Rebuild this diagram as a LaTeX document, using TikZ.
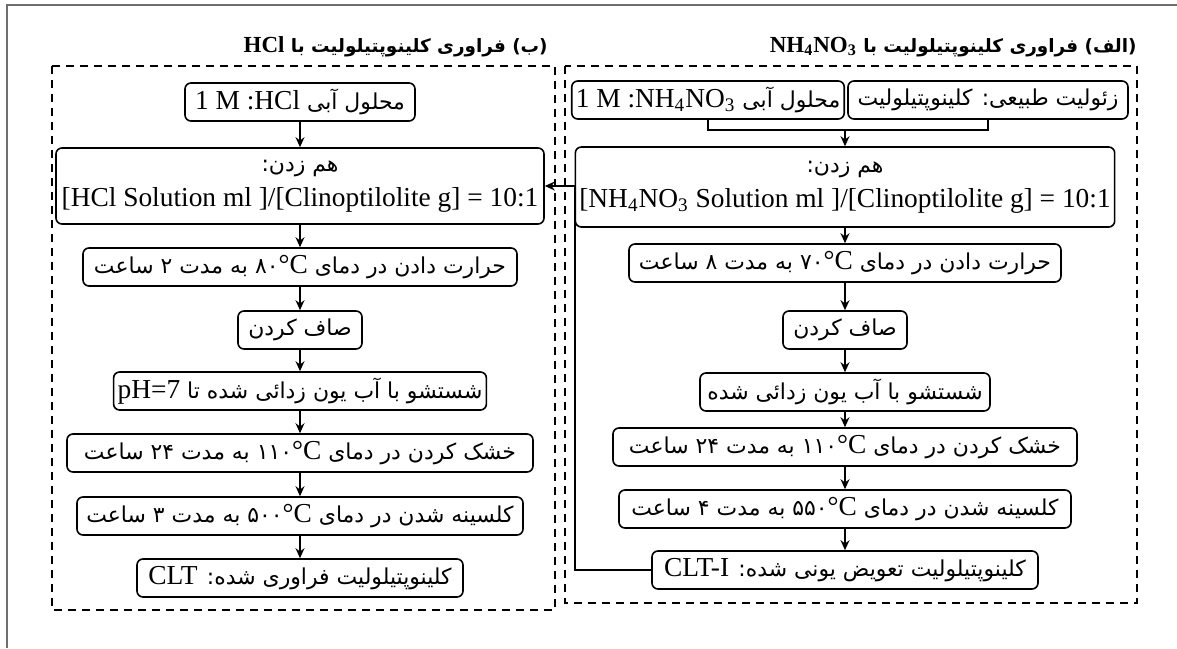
\documentclass[tikz,border=0pt]{standalone}
\usepackage{fontspec}
\usetikzlibrary{arrows.meta}
\setmainfont{Liberation Serif}
\newfontfamily\farsi[Script=Arabic,Scale=0.8]{DejaVu Sans}
\TeXXeTstate=1
\newcommand\lat[1]{\beginL{\rmfamily#1}\endL}
\newcommand\rtl[1]{{\farsi\beginR#1\endR}}
\definecolor{framegray}{RGB}{110,110,110}
\tikzset{
  stepbox/.style={draw, line width=0.8pt, rounded corners=3pt, minimum height=19pt,
                  inner sep=2pt, align=center, font=\fontsize{13.7}{17.5}\selectfont},
  grouptitle/.style={anchor=east, inner sep=0pt, font=\fontsize{11.5}{14}\selectfont\bfseries},
  groupbox/.style={dashed, dash pattern=on 4pt off 3pt, line width=0.6pt},
  flow/.style={line width=0.7pt, -{Stealth[length=5pt,width=4.5pt]}},
  link/.style={line width=0.7pt},
}
\begin{document}
\begin{tikzpicture}[x=0.5pt,y=-0.5pt]
\useasboundingbox (0,0) rectangle (1177,648);
\draw[framegray, line width=0.6pt] (7,648) -- (7,5) -- (1177,5);
\draw[groupbox] (52,66) rectangle (555,610);
\draw[groupbox] (565,66) rectangle (1137,603);
\node[grouptitle] (tb) at (548,47) {\rtl{(ب) فراوری کلینوپتیلولیت با \lat{HCl}}};
\node[grouptitle] (ta) at (1137,47) {\rtl{(الف) فراوری کلینوپتیلولیت با \lat{NH\textsubscript{4}NO\textsubscript{3}}}};

\node[stepbox, minimum width=115pt] (l1) at (300,102) {\rtl{محلول آبی \lat{1 M :HCl}}};
\node[stepbox, minimum width=244pt, minimum height=38pt] (l2) at (300,186) {\rtl{هم زدن:}\\ {[}HCl Solution ml ]/[Clinoptilolite g] = 10:1};
\node[stepbox, minimum width=217pt] (l3) at (300,267) {\rtl{حرارت دادن در دمای \lat{{\farsi ۸۰}°C} به مدت ۲ ساعت}};
\node[stepbox, minimum width=62pt] (l4) at (300,330) {\rtl{صاف کردن}};
\node[stepbox, minimum width=186pt] (l5) at (300,391) {\rtl{شستشو با آب یون زدائی شده تا \lat{pH=7}}};
\node[stepbox, minimum width=233pt] (l6) at (300,453) {\rtl{خشک کردن در دمای \lat{{\farsi ۱۱۰}°C} به مدت ۲۴ ساعت}};
\node[stepbox, minimum width=223pt] (l7) at (300,516) {\rtl{کلسینه شدن در دمای \lat{{\farsi ۵۰۰}°C} به مدت ۳ ساعت}};
\node[stepbox, minimum width=163pt] (l8) at (300,578) {\rtl{کلینوپتیلولیت فراوری شده: \lat{CLT}}};

\node[stepbox, minimum width=132pt] (r1a) at (708,100) {\rtl{محلول آبی \lat{1 M :NH\textsubscript{4}NO\textsubscript{3}}}};
\node[stepbox, minimum width=140pt] (r1b) at (988,100) {\rtl{زئولیت طبیعی: کلینوپتیلولیت}};
\node[stepbox, minimum width=260pt, minimum height=40pt] (r2) at (845,187) {\rtl{هم زدن:}\\ {[}NH\textsubscript{4}NO\textsubscript{3} Solution ml ]/[Clinoptilolite g] = 10:1};
\node[stepbox, minimum width=216pt] (r3) at (845,263) {\rtl{حرارت دادن در دمای \lat{{\farsi ۷۰}°C} به مدت ۸ ساعت}};
\node[stepbox, minimum width=62pt] (r4) at (845,330) {\rtl{صاف کردن}};
\node[stepbox, minimum width=145pt] (r5) at (845,392) {\rtl{شستشو با آب یون زدائی شده}};
\node[stepbox, minimum width=232pt] (r6) at (845,447) {\rtl{خشک کردن در دمای \lat{{\farsi ۱۱۰}°C} به مدت ۲۴ ساعت}};
\node[stepbox, minimum width=226pt] (r7) at (845,509) {\rtl{کلسینه شدن در دمای \lat{{\farsi ۵۵۰}°C} به مدت ۴ ساعت}};
\node[stepbox, minimum width=193pt] (r8) at (845,570) {\rtl{کلینوپتیلولیت تعویض یونی شده: \lat{CLT-I}}};

\foreach \a/\b in {l1/l2,l2/l3,l3/l4,l4/l5,l5/l6,l6/l7,l7/l8,r2/r3,r3/r4,r4/r5,r5/r6,r6/r7,r7/r8}
  \draw[flow] (\a.south) -- (\b.north);
\coordinate (mj) at (845,130);
\draw[link] (r1a.south) |- (mj) -| (r1b.south);
\draw[flow] (mj) -- (r2.north);
\coordinate (fb) at (575,186);
\draw[flow] (r8.west) -| (fb) -- (l2.east);
\end{tikzpicture}
\end{document}
